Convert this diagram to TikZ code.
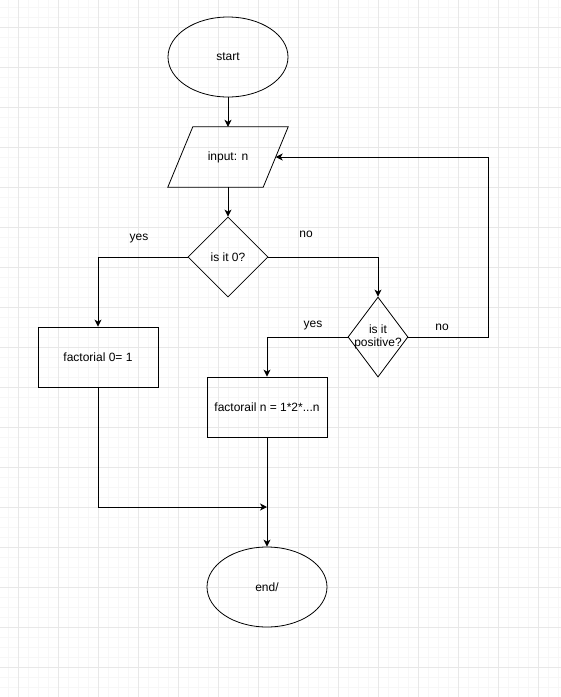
\documentclass[tikz,border=0pt]{standalone}
\usepackage{fontspec}
\setmainfont{Liberation Sans}
\usetikzlibrary{shapes.geometric,arrows.meta}

\begin{document}
\begin{tikzpicture}[x=1pt,y=-1pt,
    every node/.style={font=\fontsize{12}{13}\selectfont},
    shape line/.style={draw,line width=0.8pt,inner sep=0pt},
    process/.style={shape line,minimum width=120pt,minimum height=60pt},
    terminal/.style={shape line,ellipse,minimum width=120pt,minimum height=80pt},
    decision/.style={shape line,diamond,minimum height=80pt},
    io/.style={inner sep=0pt,minimum width=95pt,minimum height=60pt},
    arr/.style={line width=0.9pt,-{Stealth[length=7pt,width=7pt,inset=2pt]}}]
    \useasboundingbox (0,0) rectangle (561,697);
    % background grid
    \foreach \x in {8,18,...,558} \draw[black!3,line width=0.7pt] (\x,0) -- (\x,697);
    \foreach \y in {7,17,...,697} \draw[black!3,line width=0.7pt] (0,\y) -- (561,\y);
    \foreach \x in {18,58,...,558} \draw[black!9,line width=0.7pt] (\x,0) -- (\x,697);
    \foreach \y in {27,67,...,697} \draw[black!9,line width=0.7pt] (0,\y) -- (561,\y);

    \node[terminal] (start) at (228,57) {start};
    \node[io] (input) at (228,157) {input: n};
    \draw[shape line] ([xshift=12.5pt]input.north west) -- ([xshift=12.5pt]input.north east)
      -- ([xshift=-12.5pt]input.south east) -- ([xshift=-12.5pt]input.south west) -- cycle;
    \node[decision,minimum width=80pt] (iszero) at (228,257) {is it 0?};
    \node[decision,minimum width=60pt,label={[align=center]center:is it\\positive?}] (ispos) at (378,337) {};
    \node[process] (factzero) at (98,357) {factorial 0= 1};
    \node[process] (factn) at (267,407) {factorail n = 1*2*...n};
    \node[terminal] (end) at (267,587) {end/};
    \coordinate (loop) at (488,337);
    \coordinate (merge) at (267,507);

    \node (yesa) at (139,239) {yes};
    \node (noa) at (306,234) {no};
    \node (yesb) at (313,326) {yes};
    \node (nob) at (442,327) {no};

    \draw[arr] (start) -- (input);
    \draw[arr] (input) -- (iszero);
    \draw[arr] (iszero.west) -| (factzero.north);
    \draw[arr] (iszero.east) -| (ispos.north);
    \draw[arr] (ispos.west) -| (factn.north);
    \draw[arr] (ispos.east) -- (loop) |- (input.east);
    \draw[arr] (factzero.south) |- (merge);
    \draw[arr] (factn.south) -- (end.north);
\end{tikzpicture}
\end{document}
